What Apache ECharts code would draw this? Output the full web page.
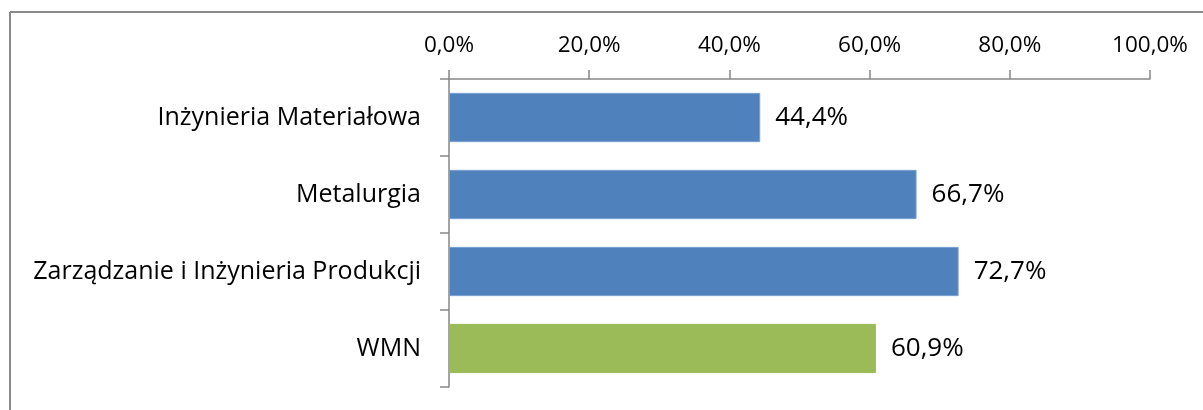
<!DOCTYPE html>
<html>
<head>
<meta charset="utf-8">
<script src="https://cdn.jsdelivr.net/npm/echarts@6/dist/echarts.min.js"></script>
<style>
  html, body { margin: 0; padding: 0; background: #fff; }
  #chart { width: 1203px; height: 410px; }
</style>
</head>
<body>
<div id="chart"></div>
<script>
const categories = ['Inżynieria Materiałowa', 'Metalurgia', 'Zarządzanie i Inżynieria Produkcji', 'WMN'];
const values = [44.4, 66.7, 72.7, 60.9];
const barColors = ['#4F81BD', '#4F81BD', '#4F81BD', '#9BBB59'];
const barBorders = ['#7AA0D2', '#7AA0D2', '#7AA0D2', '#9BBB59'];
const tickValues = [0, 20, 40, 60, 80, 100];

const fmt = v => v.toFixed(1).replace('.', ',') + '%';
const FONT = 'Open Sans';

const chart = echarts.init(document.getElementById('chart'), null, { renderer: 'canvas' });
chart.setOption({
  animation: false,
  backgroundColor: '#ffffff',
  grid: { left: 449, right: 53, top: 79, bottom: 23, containLabel: false },
  xAxis: {
    type: 'value',
    position: 'top',
    min: tickValues[0], max: tickValues[tickValues.length - 1], interval: 20,
    axisLine: { show: true, lineStyle: { color: '#868686', width: 1.5 } },
    axisTick: { show: true, length: 9, lineStyle: { color: '#868686', width: 1.5 } },
    splitLine: { show: false },
    axisLabel: {
      margin: 22,
      fontFamily: FONT, fontSize: 22.5, color: '#000',
      formatter: v => fmt(v)
    }
  },
  yAxis: {
    type: 'category',
    inverse: true,
    data: categories,
    axisLine: { show: true, lineStyle: { color: '#868686', width: 1.5 } },
    axisTick: { show: true, length: 9, alignWithLabel: false, lineStyle: { color: '#868686', width: 1.5 } },
    axisLabel: { margin: 28, fontFamily: FONT, fontSize: 25, color: '#000' }
  },
  series: [{
    type: 'bar',
    data: values.map((v, i) => ({ value: v, itemStyle: { color: barColors[i], borderColor: barBorders[i], borderWidth: 1 } })),
    barCategoryGap: '36%',
    label: {
      show: true, position: 'right', distance: 15,
      fontFamily: FONT, fontSize: 26, color: '#000',
      formatter: p => fmt(p.value)
    }
  }],
  graphic: [
    { type: 'line', shape: { x1: 10, y1: 12, x2: 1203, y2: 12 }, style: { stroke: '#898989', lineWidth: 2 } },
    { type: 'line', shape: { x1: 10, y1: 12, x2: 10, y2: 410 }, style: { stroke: '#898989', lineWidth: 2 } }
  ]
});
</script>
</body>
</html>
